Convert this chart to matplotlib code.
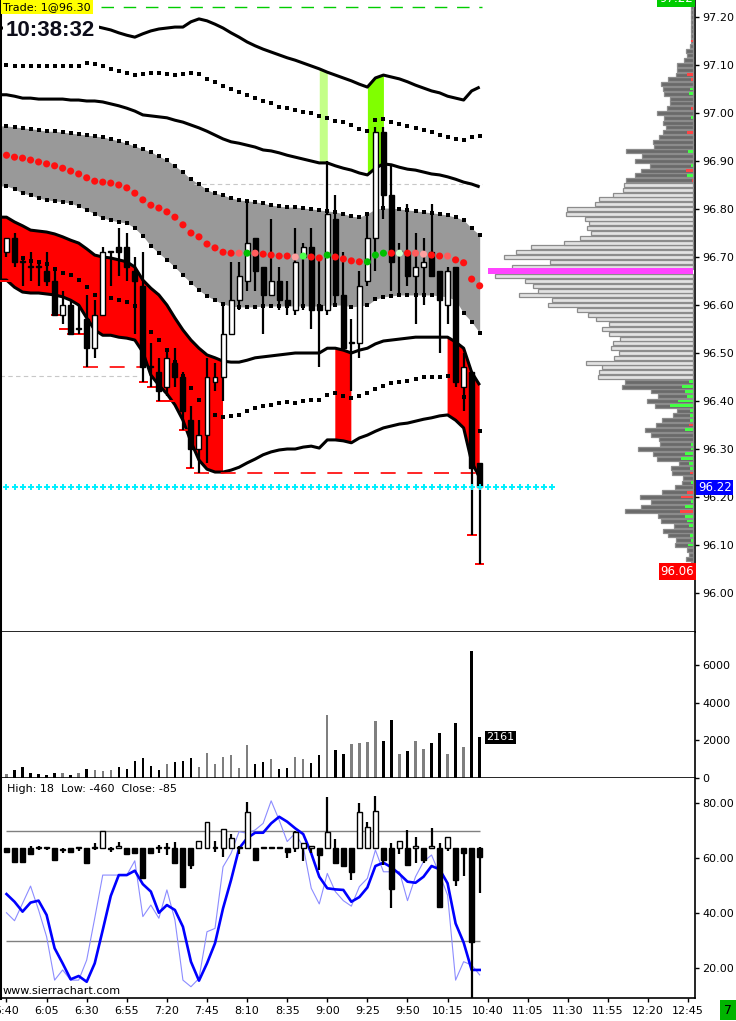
import numpy as np
import matplotlib
matplotlib.use("Agg")
import matplotlib.pyplot as plt
from matplotlib.transforms import blended_transform_factory as blend

plt.rcParams['font.family'] = ['DejaVu Sans']

# ---------------- data ----------------
time_labels = ["5:40", "6:05", "6:30", "6:55", "7:20", "7:45", "8:10", "8:35", "9:00",
               "9:25", "9:50", "10:15", "10:40", "11:05", "11:30", "11:55", "12:20", "12:45"]

open_ = [96.71, 96.74, 96.69, 96.68, 96.68, 96.67, 96.65, 96.58, 96.60, 96.55,
         96.57, 96.51, 96.58, 96.71, 96.72, 96.72, 96.67, 96.64, 96.47, 96.46,
         96.43, 96.48, 96.45, 96.36, 96.30, 96.33, 96.44, 96.45, 96.54, 96.61,
         96.65, 96.74, 96.68, 96.62, 96.65, 96.61, 96.59, 96.70, 96.72, 96.60,
         96.59, 96.78, 96.62, 96.52, 96.52, 96.65, 96.74, 96.96, 96.83, 96.71,
         96.71, 96.66, 96.68, 96.71, 96.67, 96.60, 96.68, 96.43, 96.46, 96.27]
high = [96.74, 96.75, 96.70, 96.71, 96.69, 96.71, 96.68, 96.63, 96.61, 96.60,
        96.62, 96.61, 96.72, 96.71, 96.76, 96.75, 96.70, 96.71, 96.52, 96.49,
        96.51, 96.51, 96.46, 96.39, 96.36, 96.49, 96.48, 96.60, 96.69, 96.69,
        96.82, 96.74, 96.68, 96.78, 96.68, 96.65, 96.76, 96.73, 96.76, 96.70,
        96.90, 96.83, 96.71, 96.57, 96.67, 96.79, 96.97, 96.97, 96.89, 96.73,
        96.81, 96.75, 96.74, 96.81, 96.67, 96.68, 96.68, 96.50, 96.46, 96.27]
low = [96.70, 96.68, 96.64, 96.65, 96.64, 96.64, 96.58, 96.56, 96.54, 96.54,
       96.47, 96.49, 96.58, 96.64, 96.66, 96.65, 96.54, 96.44, 96.43, 96.40,
       96.41, 96.43, 96.34, 96.26, 96.25, 96.27, 96.42, 96.40, 96.54, 96.59,
       96.63, 96.63, 96.54, 96.62, 96.59, 96.58, 96.58, 96.59, 96.55, 96.47,
       96.58, 96.60, 96.51, 96.42, 96.49, 96.64, 96.67, 96.78, 96.63, 96.62,
       96.64, 96.56, 96.60, 96.66, 96.50, 96.56, 96.43, 96.38, 96.12, 96.06]
close = [96.74, 96.69, 96.69, 96.68, 96.68, 96.65, 96.58, 96.60, 96.54, 96.55,
         96.51, 96.58, 96.71, 96.71, 96.71, 96.68, 96.65, 96.47, 96.47, 96.42,
         96.49, 96.45, 96.38, 96.30, 96.33, 96.45, 96.45, 96.54, 96.61, 96.66,
         96.73, 96.67, 96.62, 96.65, 96.61, 96.60, 96.69, 96.72, 96.59, 96.59,
         96.79, 96.62, 96.51, 96.52, 96.64, 96.74, 96.96, 96.83, 96.69, 96.71,
         96.66, 96.68, 96.69, 96.66, 96.61, 96.67, 96.44, 96.47, 96.26, 96.22]

volume = [230, 440, 570, 270, 210, 180, 270, 270, 180, 270,
          480, 440, 390, 440, 600, 500, 920, 1060, 660, 440,
          760, 870, 920, 1060, 600, 1330, 760, 1120, 1240, 550,
          1760, 750, 850, 1010, 480, 530, 1120, 1010, 800, 1220,
          3350, 1510, 1280, 1810, 1860, 1930, 3030, 1990, 3110, 1280,
          1440, 1990, 1560, 1860, 2400, 1300, 2930, 1650, 6730, 2161]
vol_up = [1, 0, 0, 0, 0, 0, 0, 1, 0, 1,
          0, 1, 1, 1, 0, 0, 0, 0, 0, 0,
          1, 0, 0, 0, 1, 1, 1, 1, 1, 1,
          1, 0, 0, 1, 0, 0, 1, 1, 0, 0,
          1, 0, 0, 1, 1, 1, 1, 0, 0, 1,
          0, 1, 1, 0, 0, 1, 0, 1, 0, 0]

band_out_up = [97.177, 97.177, 97.177, 97.177, 97.179, 97.179, 97.179, 97.179, 97.179, 97.181,
               97.181, 97.181, 97.177, 97.173, 97.167, 97.162, 97.158, 97.165, 97.171, 97.175,
               97.177, 97.179, 97.179, 97.190, 97.196, 97.192, 97.185, 97.177, 97.167, 97.158,
               97.148, 97.140, 97.133, 97.127, 97.121, 97.115, 97.110, 97.104, 97.098, 97.092,
               97.085, 97.079, 97.073, 97.067, 97.060, 97.054, 97.073, 97.079, 97.075, 97.071,
               97.065, 97.058, 97.052, 97.046, 97.042, 97.035, 97.031, 97.027, 97.046, 97.054]
band_dot_up = [97.100, 97.098, 97.098, 97.098, 97.098, 97.098, 97.098, 97.098, 97.098, 97.098,
               97.104, 97.102, 97.098, 97.092, 97.087, 97.083, 97.079, 97.081, 97.083, 97.083,
               97.081, 97.079, 97.081, 97.083, 97.081, 97.071, 97.065, 97.056, 97.050, 97.044,
               97.038, 97.031, 97.025, 97.021, 97.012, 97.010, 97.006, 97.002, 97.000, 96.994,
               96.990, 96.983, 96.981, 96.975, 96.967, 96.962, 96.985, 96.987, 96.981, 96.977,
               96.973, 96.969, 96.965, 96.960, 96.954, 96.950, 96.946, 96.944, 96.950, 96.952]
band_in_up = [97.038, 97.035, 97.031, 97.031, 97.029, 97.029, 97.029, 97.029, 97.027, 97.027,
              97.025, 97.025, 97.023, 97.019, 97.015, 97.010, 97.004, 96.996, 96.994, 96.992,
              96.990, 96.985, 96.981, 96.975, 96.969, 96.962, 96.954, 96.946, 96.940, 96.937,
              96.933, 96.929, 96.923, 96.921, 96.917, 96.912, 96.908, 96.904, 96.900, 96.896,
              96.896, 96.890, 96.885, 96.881, 96.875, 96.871, 96.885, 96.894, 96.892, 96.887,
              96.883, 96.881, 96.877, 96.873, 96.871, 96.867, 96.862, 96.856, 96.852, 96.846]
gray_up = [96.973, 96.971, 96.969, 96.967, 96.965, 96.962, 96.962, 96.960, 96.958, 96.956,
           96.954, 96.952, 96.950, 96.946, 96.942, 96.937, 96.931, 96.925, 96.919, 96.910,
           96.902, 96.890, 96.877, 96.862, 96.852, 96.840, 96.833, 96.829, 96.823, 96.819,
           96.817, 96.815, 96.812, 96.808, 96.806, 96.804, 96.804, 96.802, 96.800, 96.798,
           96.796, 96.794, 96.790, 96.785, 96.783, 96.790, 96.800, 96.802, 96.802, 96.800,
           96.798, 96.796, 96.794, 96.792, 96.790, 96.787, 96.783, 96.777, 96.760, 96.746]
center = [96.912, 96.908, 96.906, 96.902, 96.898, 96.894, 96.890, 96.885, 96.879, 96.873,
          96.865, 96.858, 96.856, 96.854, 96.850, 96.844, 96.833, 96.819, 96.808, 96.802,
          96.794, 96.783, 96.767, 96.750, 96.742, 96.727, 96.719, 96.710, 96.708, 96.708,
          96.708, 96.708, 96.706, 96.704, 96.702, 96.702, 96.700, 96.702, 96.700, 96.698,
          96.704, 96.700, 96.696, 96.692, 96.690, 96.690, 96.704, 96.708, 96.708, 96.708,
          96.708, 96.708, 96.706, 96.704, 96.702, 96.702, 96.694, 96.688, 96.654, 96.640]
center_col = ("rrrrrrrrrr" "rrrrrrrrrr" "rrrrrrrrrs"
              "gsrrrrplrr" "grrrrgggrw" "rsprrsrrrr")
gray_lo = [96.848, 96.842, 96.833, 96.829, 96.823, 96.819, 96.817, 96.815, 96.812, 96.806,
           96.798, 96.790, 96.781, 96.777, 96.773, 96.771, 96.760, 96.744, 96.723, 96.708,
           96.694, 96.679, 96.662, 96.646, 96.631, 96.619, 96.610, 96.602, 96.598, 96.596,
           96.596, 96.596, 96.598, 96.598, 96.598, 96.598, 96.598, 96.598, 96.598, 96.598,
           96.600, 96.600, 96.600, 96.596, 96.598, 96.600, 96.612, 96.617, 96.619, 96.621,
           96.621, 96.621, 96.621, 96.621, 96.619, 96.617, 96.610, 96.583, 96.565, 96.542]
band_in_lo = [96.783, 96.773, 96.765, 96.756, 96.754, 96.752, 96.748, 96.742, 96.735, 96.729,
              96.717, 96.704, 96.700, 96.698, 96.694, 96.690, 96.679, 96.652, 96.635, 96.621,
              96.600, 96.573, 96.548, 96.527, 96.510, 96.496, 96.490, 96.483, 96.481, 96.481,
              96.485, 96.490, 96.492, 96.494, 96.496, 96.498, 96.500, 96.500, 96.500, 96.500,
              96.510, 96.510, 96.506, 96.500, 96.506, 96.510, 96.519, 96.525, 96.527, 96.529,
              96.531, 96.533, 96.533, 96.533, 96.533, 96.533, 96.523, 96.510, 96.460, 96.433]
band_dot_lo = [96.715, 96.704, 96.698, 96.692, 96.690, 96.685, 96.675, 96.667, 96.662, 96.652,
               96.637, 96.621, 96.615, 96.615, 96.610, 96.606, 96.598, 96.579, 96.544, 96.527,
               96.506, 96.481, 96.452, 96.427, 96.402, 96.381, 96.371, 96.367, 96.369, 96.371,
               96.379, 96.385, 96.390, 96.392, 96.396, 96.398, 96.396, 96.400, 96.402, 96.402,
               96.413, 96.417, 96.410, 96.406, 96.410, 96.417, 96.425, 96.431, 96.438, 96.440,
               96.442, 96.446, 96.450, 96.450, 96.450, 96.452, 96.444, 96.408, 96.371, 96.337]
band_out_lo = [96.652, 96.637, 96.627, 96.625, 96.625, 96.623, 96.621, 96.617, 96.610, 96.600,
               96.573, 96.548, 96.537, 96.537, 96.533, 96.531, 96.527, 96.502, 96.454, 96.433,
               96.415, 96.392, 96.360, 96.315, 96.277, 96.258, 96.252, 96.252, 96.256, 96.262,
               96.271, 96.279, 96.288, 96.294, 96.298, 96.300, 96.300, 96.304, 96.306, 96.302,
               96.319, 96.319, 96.317, 96.313, 96.323, 96.329, 96.337, 96.344, 96.348, 96.352,
               96.354, 96.358, 96.362, 96.365, 96.369, 96.371, 96.360, 96.344, 96.273, 96.240]
red_zone = [1, 1, 1, 1, 1, 1, 1, 1, 1, 1,
            1, 1, 1, 1, 1, 1, 1, 1, 1, 1,
            1, 1, 1, 1, 1, 1, 1, 1, 0, 0,
            0, 0, 0, 0, 0, 0, 0, 0, 0, 0,
            0, 1, 1, 1, 0, 0, 0, 0, 0, 0,
            0, 0, 0, 0, 0, 1, 1, 1, 1, 1]
lime_zone = [0] * 39 + [1, 1] + [0] * 19
green_zone = [0] * 45 + [1, 1, 1] + [0] * 12

# extension lines (price, from bar, to bar, dashed)
low_lines = [(96.65, -0.8, 0.7, False), (96.58, 5.7, 6.7, False), (96.55, 6.7, 7.6, False),
             (96.54, 7.7, 9.5, False), (96.47, 9.5, 16.6, True), (96.44, 16.6, 17.5, False),
             (96.43, 17.6, 18.8, False), (96.40, 18.8, 21.4, False), (96.34, 21.6, 22.5, False),
             (96.26, 22.5, 23.3, False), (96.25, 23.4, 59.3, True), (96.12, 57.6, 58.5, False),
             (96.06, 58.6, 59.4, False)]
trade_price = 97.22
last_price = 96.22
session_low = 96.06
ref_lines = [(96.852, 23.4, 59.3), (96.452, -0.8, 16.6)]

# volume profile (price levels 96.06 .. 97.22)
prof_lo, prof_hi = 96.06, 97.22
profile = [2, 7, 4, 6, 18, 17, 25, 30, 19, 32,
           35, 68, 52, 42, 53, 31, 18, 11, 10, 21,
           22, 14, 36, 40, 55, 33, 34, 42, 48, 37,
           31, 20, 16, 38, 46, 35, 42, 71, 68, 95,
           94, 91, 107, 79, 74, 82, 80, 73, 84, 91,
           84, 97, 105, 116, 145, 141, 174, 155, 160, 168,
           198, 205, 181, 143, 189, 177, 162, 129, 113, 102,
           106, 104, 108, 127, 126, 98, 94, 80, 70, 69,
           67, 58, 52, 43, 58, 51, 67, 39, 40, 34,
           30, 27, 30, 29, 36, 26, 23, 23, 29, 30,
           32, 25, 17, 16, 16, 9, 6, 7, 3, 2,
           2, 2, 2, 2, 2, 2, 2]
poc = 96.67
va_low, va_high = 96.45, 96.85
delta_price = [97.15, 97.08, 97.07, 97.05, 97.04, 97.01, 96.99, 96.96, 96.92, 96.89, 96.88, 96.87,
               96.86, 96.44, 96.43, 96.42, 96.41, 96.40, 96.39, 96.38, 96.37, 96.36, 96.35, 96.34,
               96.31, 96.30, 96.29, 96.28, 96.27, 96.26, 96.25, 96.23, 96.21, 96.20, 96.19, 96.18,
               96.17, 96.16, 96.15, 96.14, 96.12, 96.11, 96.10, 96.06]
delta_val = [-2, -6, -2, 3, 4, -2, 2, -6, 5, 2, -7, 6,
             -1, 4, 11, 8, 6, 15, 23, 3, 3, 3, -4, 8,
             2, 2, 8, 12, 4, 3, -3, 2, -6, -12, 2, 8,
             -13, 8, 6, 4, 3, 2, 5, 2]

# oscillator panel
osc_o = [63.8, 63.5, 63.5, 63.5, 63.5, 63.5, 63.5, 62.9, 63.5, 63.5,
         63.5, 63.5, 63.5, 63.2, 63.5, 63.5, 63.5, 63.5, 63.5, 63.5,
         63.5, 63.5, 63.5, 63.5, 63.5, 63.5, 63.5, 63.5, 63.5, 63.5,
         63.5, 63.5, 63.5, 63.5, 63.5, 63.5, 63.5, 63.5, 63.5, 63.5,
         63.5, 63.5, 63.5, 63.5, 63.5, 63.5, 63.5, 63.5, 63.5, 63.5,
         63.5, 63.5, 63.5, 63.5, 63.5, 63.5, 63.5, 63.5, 63.5, 63.5]
osc_h = [63.8, 63.5, 63.5, 64.4, 64.4, 64.1, 63.5, 63.5, 63.5, 64.1,
         63.5, 65.6, 69.8, 64.1, 66.0, 63.5, 63.5, 63.5, 63.5, 64.7,
         65.3, 66.0, 63.5, 63.5, 66.2, 73.0, 66.2, 70.4, 68.6, 64.4,
         80.5, 63.5, 63.5, 63.5, 63.5, 63.5, 69.9, 65.3, 64.5, 63.5,
         82.3, 66.8, 63.5, 63.5, 79.9, 73.0, 82.5, 63.5, 65.3, 66.2,
         70.2, 67.8, 63.5, 70.8, 65.3, 67.8, 63.5, 63.5, 63.5, 64.1]
osc_l = [62.3, 58.4, 58.7, 61.5, 62.9, 62.9, 59.3, 61.9, 62.3, 62.7,
         58.1, 62.9, 63.5, 62.3, 63.2, 61.5, 61.7, 52.9, 61.9, 61.9,
         61.1, 58.3, 49.3, 55.9, 63.5, 63.5, 62.3, 60.5, 63.5, 61.5,
         63.5, 59.3, 63.5, 63.5, 63.5, 60.1, 62.3, 58.9, 61.7, 55.6,
         63.5, 58.3, 57.1, 52.0, 63.5, 63.5, 63.5, 57.5, 41.9, 61.5,
         57.5, 58.3, 58.1, 63.5, 41.9, 62.7, 49.8, 53.5, 9.0, 47.2]
osc_c = [62.3, 58.4, 58.7, 61.5, 63.5, 63.5, 59.3, 62.9, 62.3, 63.5,
         58.1, 63.5, 69.8, 63.2, 64.4, 61.5, 61.7, 52.9, 61.9, 63.5,
         63.5, 58.3, 49.3, 57.5, 66.2, 73.0, 63.5, 70.4, 67.2, 64.1,
         76.6, 59.3, 63.5, 63.5, 63.5, 62.3, 69.3, 65.3, 64.5, 61.1,
         69.3, 58.3, 57.1, 55.0, 76.8, 71.4, 77.2, 59.3, 48.6, 66.2,
         57.5, 64.5, 59.3, 64.5, 42.3, 67.8, 52.0, 61.7, 29.6, 60.5]
osc_slow = [46.9, 44.1, 40.5, 43.8, 44.5, 39.3, 27.2, 21.7, 15.9, 17.1,
            15.0, 21.7, 33.8, 46.2, 53.8, 53.8, 55.4, 50.5, 47.8, 40.1,
            42.9, 41.1, 35.0, 22.3, 15.4, 21.7, 29.0, 41.7, 52.0, 63.5,
            67.2, 69.2, 69.2, 72.6, 75.0, 73.2, 70.8, 68.7, 61.7, 53.2,
            49.0, 48.6, 48.4, 44.1, 45.8, 49.3, 57.1, 58.3, 56.6, 54.2,
            51.4, 51.0, 53.2, 57.1, 55.9, 50.8, 36.2, 29.3, 19.3, 19.3]
osc_fast = [40.1, 37.2, 43.5, 49.8, 41.1, 31.4, 15.6, 19.3, 15.6, 15.6,
            22.9, 38.1, 53.8, 53.8, 53.8, 53.8, 59.0, 38.7, 42.9, 38.1,
            48.4, 37.5, 15.6, 13.2, 16.2, 33.2, 34.4, 56.8, 61.7, 69.6,
            69.0, 70.2, 72.6, 80.8, 73.8, 66.0, 69.0, 64.1, 49.0, 43.3,
            54.4, 47.8, 44.5, 42.5, 49.6, 52.6, 62.9, 55.0, 55.0, 55.0,
            44.5, 53.2, 58.7, 61.1, 54.1, 46.5, 15.6, 22.3, 21.1, 17.5]
osc_levels = [70, 30]
osc_title = "High: 18  Low: -460  Close: -85"

# ---------------- figure ----------------
W, H = 736, 1021
fig = plt.figure(figsize=(W / 100, H / 100), dpi=100)


def rect(x0, y0, x1, y1):
    return [x0 / W, 1 - y1 / H, (x1 - x0) / W, (y1 - y0) / H]


ax_p = fig.add_axes(rect(0, 0, 695, 632))
ax_prof = fig.add_axes(rect(0, 0, 695, 632))
ax_v = fig.add_axes(rect(0, 632, 695, 778))
ax_o = fig.add_axes(rect(0, 778, 695, 998))

n = len(close)
idx = np.arange(n)
XL = (-0.81, 85.85)
P_YL = (95.9188, 97.2354)


def style(ax):
    for s in ('right', 'bottom'):
        ax.spines[s].set_color('black')
        ax.spines[s].set_linewidth(1.2)
    ax.spines['left'].set_linewidth(2.2)
    ax.spines['top'].set_visible(False)
    ax.yaxis.tick_right()
    ax.tick_params(axis='y', direction='out', length=3, width=1, labelsize=8, pad=2)
    ax.tick_params(axis='x', bottom=False, labelbottom=False)
    ax.set_xlim(*XL)


for ax in (ax_p, ax_v, ax_o):
    style(ax)


def candles(ax, o, h, l, c, width, wick_lw, min_h, z=5):
    o, h, l, c = (np.asarray(a, float) for a in (o, h, l, c))
    x = np.arange(len(o))
    ax.vlines(x, l, h, color='black', lw=wick_lw, zorder=z)
    up = c >= o
    bot = np.minimum(o, c)
    hei = np.maximum(np.abs(c - o), min_h)
    ax.bar(x[up], hei[up], width, bottom=bot[up], color='white', edgecolor='black', lw=1, zorder=z + 1)
    ax.bar(x[~up], hei[~up], width, bottom=bot[~up], color='black', edgecolor='black', lw=1, zorder=z + 1)


# ---- price panel ----
xe = np.r_[-1.0, idx]


def ext(a):
    a = np.asarray(a, float)
    return np.r_[a[0], a]


ax_p.fill_between(xe, ext(gray_lo), ext(gray_up), color='#999999', lw=0, zorder=1)
ax_p.fill_between(xe, ext(band_in_lo), ext(band_out_lo), where=ext(red_zone).astype(bool),
                  color='#ff0000', lw=0, zorder=1)
ax_p.fill_between(idx, band_in_up, band_out_up, where=np.array(lime_zone, bool),
                  color='#c4ff88', lw=0, zorder=1)
ax_p.fill_between(idx, band_in_up, band_out_up, where=np.array(green_zone, bool),
                  color='#80ff00', lw=0, zorder=1)

for band in (band_out_up, band_in_up, band_in_lo, band_out_lo):
    ax_p.plot(xe, ext(band), color='black', lw=2.2, zorder=3, solid_capstyle='butt')
for band in (band_dot_up, band_dot_lo, gray_up, gray_lo):
    ax_p.plot(idx, band, ls='none', marker='s', ms=2.2, mew=0, color='black', zorder=3)

for (p, a, b) in ref_lines:
    ax_p.plot([a, b], [p, p], color='#c8c8c8', lw=0.8, dashes=(4, 3), zorder=2)

ax_p.plot([11.8, 59.3], [trade_price, trade_price], color='#00cc00', lw=1, dashes=(9, 7), zorder=2)
for (p, a, b, d) in low_lines:
    if d:
        ax_p.plot([a, b], [p, p], color='#ff0000', lw=1.2, dashes=(9, 7), zorder=4)
    else:
        ax_p.plot([a, b], [p, p], color='#ff0000', lw=1.4, zorder=4)

candles(ax_p, open_, high, low, close, 0.62, 1.6, 0.002)

col_map = {'r': '#ff1010', 's': '#ff5c5c', 'p': '#ffa0a0', 'g': '#00c000',
           'l': '#4cff4c', 'w': '#ccffcc'}
ax_p.scatter(idx, center, s=26, c=[col_map[k] for k in center_col], marker='o',
             linewidths=0, zorder=8)

ax_p.plot(np.arange(0, 69), [last_price] * 69, ls='none', marker='+', ms=4.5, mew=1.4,
          color='#00f0ff', zorder=8)

ax_p.set_ylim(*P_YL)
pt = np.round(np.arange(96.0, 97.21, 0.1), 2)
ax_p.set_yticks(pt)
ax_p.set_yticklabels([f"{v:.2f}" for v in pt])

# ---- volume profile overlay ----
ax_prof.set_xlim(695, 0)
ax_prof.set_ylim(*P_YL)
ax_prof.set_facecolor('none')
ax_prof.axis('off')
levels = np.round(np.arange(prof_lo, prof_hi + 0.001, 0.01), 2)
for p, L in zip(levels, profile):
    if abs(p - poc) < 1e-6:
        ax_prof.barh(p, L, left=2, height=0.0125, color='#ff44ff', lw=0, zorder=3)
    elif va_low - 1e-6 <= p <= va_high + 1e-6:
        ax_prof.barh(p, L, left=2, height=0.0085, color='#e2e2e2', edgecolor='#8c8c8c',
                     lw=0.9, zorder=2)
    else:
        ax_prof.barh(p, L, left=2, height=0.0085, color='#6a6a6a', edgecolor='#8c8c8c',
                     lw=0.9, zorder=2)
for p, d in zip(delta_price, delta_val):
    ax_prof.barh(p, abs(d), left=2.5, height=0.0055, color='#44ff44' if d > 0 else '#ff4444',
                 lw=0, zorder=4)

bt = blend(ax_prof.transAxes, ax_prof.transData)
ax_prof.text(0.999, session_low - 0.002, f"{session_low:.2f}", transform=bt, ha='right', va='top',
             color='white', fontsize=8.5, zorder=10,
             bbox=dict(boxstyle='square,pad=0.15', fc='#ff0000', ec='none'))
ax_prof.text(1.004, last_price, f"{last_price:.2f}", transform=bt, ha='left', va='center',
             color='white', fontsize=8.5, zorder=10, clip_on=False,
             bbox=dict(boxstyle='square,pad=0.12', fc='#0000ff', ec='none'))
ax_prof.text(0.997, 97.2395, f"{trade_price:.2f}", transform=bt, ha='right', va='center',
             color='white', fontsize=8.5, zorder=10, clip_on=True,
             bbox=dict(boxstyle='square,pad=0.2', fc='#00cc00', ec='none'))

# ---- volume panel ----
ax_v.bar(idx, volume, 0.3, color=['#7f7f7f' if u else 'black' for u in vol_up], lw=0)
ax_v.set_ylim(0, 7766)
ax_v.set_yticks([0, 2000, 4000, 6000])
ax_v.set_yticklabels(['0', '2000', '4000', '6000'])
ax_v.text(59.85, volume[-1], f"{volume[-1]}", ha='left', va='center', color='white', fontsize=8,
          bbox=dict(boxstyle='square,pad=0.15', fc='black', ec='none'), zorder=10)

# ---- oscillator panel ----
ax_o.hlines(osc_levels, 0, n - 1, color='#808080', lw=1, zorder=1)
ax_o.plot(idx, osc_fast, color='#8c8cff', lw=0.8, zorder=2)
ax_o.plot(idx, osc_slow, color='#0000ff', lw=1.9, zorder=3)
candles(ax_o, osc_o, osc_h, osc_l, osc_c, 0.62, 1.6, 0.4, z=4)
ax_o.set_ylim(9.1, 89.1)
ax_o.set_yticks([20, 40, 60, 80])
ax_o.set_yticklabels(['20.00', '40.00', '60.00', '80.00'])
ax_o.set_xticks(np.arange(0, 5 * len(time_labels), 5))
ax_o.set_xticklabels(time_labels)
ax_o.tick_params(axis='x', bottom=True, labelbottom=True, direction='out', length=3,
                 width=1, labelsize=8, pad=3)
ax_o.set_xlim(*XL)

# ---- texts ----
fig.text(3 / W, 1 - 7 / H, "Trade: 1@96.30", fontsize=8, va='center', ha='left',
         bbox=dict(boxstyle='square,pad=0.2', fc='#ffff00', ec='none'))
fig.text(6 / W, 1 - 31 / H, "10:38:32", fontsize=16, fontweight='bold', family='Liberation Sans',
         color='#0d0d1a', va='center', ha='left',
         bbox=dict(boxstyle='square,pad=0.15', fc='white', ec='none'))
fig.text(7 / W, 1 - 789 / H, osc_title, fontsize=8, va='center', ha='left')
fig.text(3 / W, 1 - 991 / H, "www.sierrachart.com", fontsize=8, va='center', ha='left')
fig.text(728 / W, 1 - 1010 / H, "7", fontsize=9, va='center', ha='center',
         bbox=dict(boxstyle='square,pad=0.3', fc='#00b400', ec='none'))

fig.savefig("out.png", dpi=100)
